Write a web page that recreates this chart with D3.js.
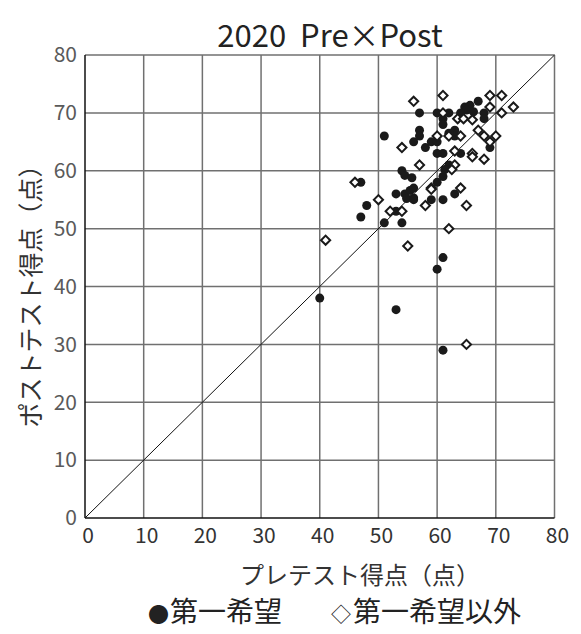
<!DOCTYPE html>
<html>
<head>
<meta charset="utf-8">
<script src="https://cdn.jsdelivr.net/npm/d3@7"></script>
<style>
  body { margin: 0; background: #fff; }
  svg { display: block; font-family: "Noto Sans CJK JP", "Noto Sans", sans-serif; }
</style>
</head>
<body>
<svg id="chart" width="581" height="634"></svg>
<script>
// [pre, post] pairs
const firstChoice = [
  [40, 38], [53, 36], [61, 45], [60, 43], [61, 29],
  [47, 52], [48, 54], [51, 51], [54, 51], [53, 53],
  [51, 66], [47, 58], [57, 70], [57, 67], [57, 66],
  [56, 65], [58, 64], [59, 65], [60, 63], [60, 70],
  [62, 70], [61, 69], [61, 68], [64.7, 71], [65.6, 71.3],
  [66.2, 70.2], [67, 72], [68, 70], [68, 69], [63, 67],
  [63, 66], [62, 66.5], [60, 65], [69, 64], [61, 63],
  [64, 63], [54, 60], [54.5, 59.2], [55.7, 58.8], [53, 56],
  [54.5, 56], [55.4, 56.6], [56, 57], [54.8, 55.2], [56, 55.3],
  [62, 61], [61, 59], [60, 58], [61, 55], [63, 56],
  [59, 55], [56, 55], [65, 70.5], [61.3, 60.2], [64, 70]
];
const otherChoice = [
  [41, 48], [55, 47], [62, 50], [65, 30], [46, 58],
  [50, 55], [52, 53], [54, 53], [58, 54], [65, 54],
  [54, 64], [56, 72], [61, 73], [69, 73], [71, 73],
  [73, 71], [71, 70], [69, 71], [61, 70], [63.5, 69],
  [64.5, 69], [66, 68.8], [62, 66], [64, 66], [67, 67],
  [68, 66], [70, 66], [69, 65], [63, 63.4], [66, 63],
  [68, 62], [57, 61], [60, 66], [59, 57], [64, 57],
  [63, 61], [66, 62.4], [62.5, 60.2], [59, 56.8]
];
const tickValues = [0, 10, 20, 30, 40, 50, 60, 70, 80];
const titleText = "2020\u00a0 Pre×Post";
const xTitle = "プレテスト得点（点）";
const yTitle = "ポストテスト得点（点）";
const legendSymbols = ["●", "◇"];
const legendLabels = ["第一希望", "第一希望以外"];

const svg = d3.select("#chart");
const plotLeft = 85, plotRight = 554.5, plotTop = 55, plotBottom = 518;

const x = d3.scaleLinear().domain([0, 80]).range([plotLeft, plotRight]);
const y = d3.scaleLinear().domain([0, 80]).range([plotBottom, plotTop]);

// grid
const grid = svg.append("g").attr("stroke", "#707070").attr("stroke-width", 1.5);
grid.selectAll(".vx").data(tickValues.slice(1)).join("line")
  .attr("x1", d => x(d)).attr("x2", d => x(d))
  .attr("y1", plotTop).attr("y2", plotBottom);
grid.selectAll(".hy").data(tickValues.slice(1)).join("line")
  .attr("x1", plotLeft).attr("x2", plotRight)
  .attr("y1", d => y(d)).attr("y2", d => y(d));

// axes lines
svg.append("line").attr("x1", plotLeft).attr("x2", plotLeft).attr("y1", plotTop).attr("y2", plotBottom)
  .attr("stroke", "#111").attr("stroke-width", 1.5);
svg.append("line").attr("x1", plotLeft).attr("x2", plotRight).attr("y1", plotBottom).attr("y2", plotBottom)
  .attr("stroke", "#111").attr("stroke-width", 1.5);

// y = x reference line
svg.append("line")
  .attr("x1", x(0)).attr("y1", y(0)).attr("x2", x(80)).attr("y2", y(80))
  .attr("stroke", "#111").attr("stroke-width", 1);

// tick labels
svg.append("g").selectAll("text").data(tickValues).join("text")
  .attr("x", plotLeft - 8).attr("y", d => y(d)).attr("dy", "0.35em")
  .attr("text-anchor", "end").attr("font-size", 21).attr("fill", "#5a5a5a")
  .text(d => d);
svg.append("g").selectAll("text").data(tickValues).join("text")
  .attr("x", d => x(d) + 3).attr("y", plotBottom + 18).attr("dy", "0.35em")
  .attr("text-anchor", "middle").attr("font-size", 21).attr("fill", "#333")
  .text(d => d);

// points
svg.append("g").selectAll("circle").data(firstChoice).join("circle")
  .attr("cx", d => x(d[0])).attr("cy", d => y(d[1])).attr("r", 4.5)
  .attr("fill", "#1a1a1a");

const diamond = d3.symbol().type(d3.symbolSquare).size(42);
svg.append("g").selectAll("path").data(otherChoice).join("path")
  .attr("d", diamond)
  .attr("transform", d => `translate(${x(d[0])},${y(d[1])}) rotate(45)`)
  .attr("fill", "#fff").attr("stroke", "#1a1a1a").attr("stroke-width", 2);

// titles
svg.append("text").attr("x", 330).attr("y", 36).attr("dy", "0.35em")
  .attr("text-anchor", "middle").attr("font-size", 31).attr("fill", "#222")
  .text(titleText);
svg.append("text").attr("x", 360).attr("y", 576).attr("dy", "0.35em")
  .attr("text-anchor", "middle").attr("font-size", 24).attr("fill", "#333")
  .text(xTitle);
svg.append("text")
  .attr("transform", `translate(31,290) rotate(-90)`).attr("dy", "0.35em")
  .attr("text-anchor", "middle").attr("font-size", 25).attr("fill", "#333")
  .text(yTitle);

// legend: small symbol glyphs followed by labels
const legend = svg.append("text").attr("y", 616).attr("dy", "0.35em").attr("fill", "#222");
legend.append("tspan").attr("x", 148).attr("font-size", 21).text(legendSymbols[0]);
legend.append("tspan").attr("x", 170).attr("font-size", 28).text(legendLabels[0]);
legend.append("tspan").attr("x", 331).attr("font-size", 20).text(legendSymbols[1]);
legend.append("tspan").attr("x", 353).attr("font-size", 28).text(legendLabels[1]);
</script>
</body>
</html>
